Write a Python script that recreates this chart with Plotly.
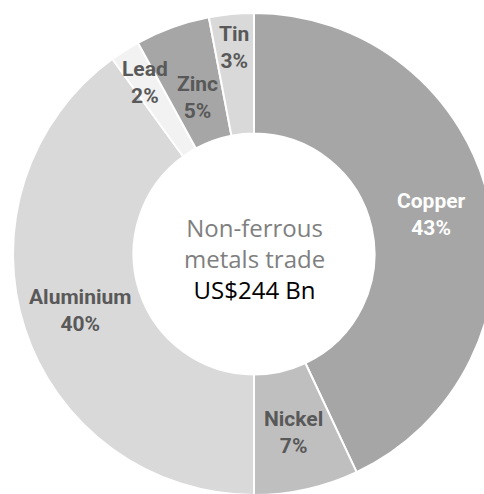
import math
import plotly.graph_objects as go

# Share of non-ferrous metals trade by metal (%)
metals = ["Copper", "Nickel", "Aluminium", "Lead", "Zinc", "Tin"]
shares = [43, 7, 40, 2, 5, 3]
colors = ["#a6a6a6", "#bfbfbf", "#d9d9d9", "#f2f2f2", "#a6a6a6", "#d9d9d9"]
label_colors = ["#ffffff", "#595959", "#595959", "#595959", "#595959", "#595959"]
# radial placement of each label, as a fraction of the outer radius
label_radius = [0.755, 0.76, 0.76, 0.845, 0.69, 0.86]

W, H = 495, 495
CX, CY, R = 254, 254, 241

fig = go.Figure(
    go.Pie(
        labels=metals,
        values=shares,
        sort=False,
        direction="clockwise",
        rotation=0,
        hole=0.5,
        marker=dict(colors=colors, line=dict(color="#ffffff", width=2)),
        textinfo="none",
        hoverinfo="label+percent",
        domain=dict(x=[(CX - R) / W, (CX + R) / W], y=[1 - (CY + R) / H, 1 - (CY - R) / H]),
        showlegend=False,
    )
)

# slice labels placed at each slice's mid-angle
total = sum(shares)
cum = 0
for name, v, col, rf in zip(metals, shares, label_colors, label_radius):
    mid = (cum + v / 2) / total * 2 * math.pi
    cum += v
    px = CX + rf * R * math.sin(mid)
    py = CY - rf * R * math.cos(mid)
    fig.add_annotation(
        x=px / W, y=1 - py / H, xref="paper", yref="paper",
        text=f"<b>{name}<br>{round(v / total * 100)}%</b>",
        showarrow=False, xanchor="center", yanchor="middle",
        font=dict(family="Roboto", size=21, color=col),
    )

fig.add_annotation(
    x=CX / W, y=1 - 258 / H, xref="paper", yref="paper",
    text="<span style='color:#7f7f7f'>Non-ferrous<br>metals trade</span><br>US$244 Bn",
    showarrow=False, xanchor="center", yanchor="middle",
    font=dict(family="Open Sans", size=24, weight=500, color="#000000"),
)

fig.update_layout(
    width=W, height=H,
    margin=dict(l=0, r=0, t=0, b=0),
    paper_bgcolor="#ffffff",
    plot_bgcolor="#ffffff",
)

fig.write_html(
    "out.html",
    post_script="document.documentElement.style.overflow='hidden';document.body.style.overflow='hidden';document.body.style.margin='0';",
)
